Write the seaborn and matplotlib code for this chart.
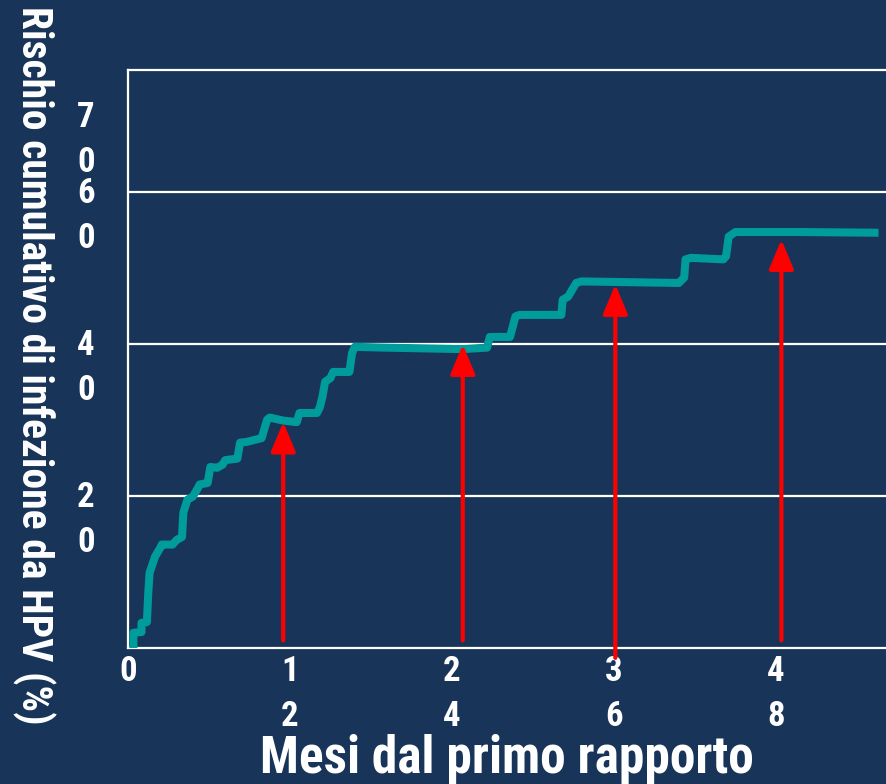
import matplotlib
matplotlib.use("Agg")
import matplotlib.pyplot as plt
from matplotlib import font_manager
from matplotlib.patches import ArrowStyle
from matplotlib.transforms import ScaledTranslation
import seaborn as sns
import pandas as pd

# Cumulative risk curve (months since first partner, cumulative risk %)
months = [0.4, 0.4, 1.0, 1.0, 1.4, 1.5, 1.6, 2.0, 2.4, 2.5, 3.3, 3.6, 4.0, 4.1, 4.4,
          4.8, 5.2, 5.3, 5.9, 6.1, 6.6, 7.0, 7.2, 8.1, 8.3, 8.8, 9.9, 10.3, 10.5, 11.5,
          12.5, 12.7, 14.0, 14.2, 14.4, 14.6, 15.0, 15.2, 16.4, 16.6, 16.8, 18.9, 24.8,
          26.6, 26.8, 28.3, 28.7, 29.0, 32.1, 32.2, 32.6, 33.2, 33.6, 40.8, 41.2, 41.3,
          41.7, 44.1, 44.3, 44.5, 45.0, 49.6, 55.6]
risk = [0.0, 2.0, 2.1, 3.3, 3.4, 7.2, 9.9, 12.0, 13.2, 13.6, 13.6, 14.2, 14.6, 17.8, 19.5,
        19.9, 21.1, 21.5, 21.7, 23.8, 23.7, 24.1, 24.7, 24.9, 27.0, 27.1, 27.6, 30.0, 30.3, 29.9,
        29.7, 30.9, 30.9, 31.6, 33.0, 35.0, 35.5, 36.3, 36.3, 38.8, 39.6, 39.5, 39.3,
        39.5, 40.9, 40.9, 43.6, 43.8, 43.8, 45.8, 46.2, 48.0, 48.2, 48.0, 48.7, 51.1,
        51.3, 51.1, 51.5, 54.1, 54.7, 54.7, 54.6]

# Highlight arrows: month, arrow base, arrow tip (risk %)
arrow_months = [11.5, 24.8, 36.1, 48.4]
arrow_base = [1.0, 1.0, -1.3, 1.0]
arrow_tip = [29.7, 39.9, 47.8, 53.7]

x_ticks = [0, 12, 24, 36, 48]
x_tick_labels = ["0", "1\n2", "2\n4", "3\n6", "4\n8"]
y_ticks = [20, 40, 60, 70]
y_tick_labels = ["2\n0", "4\n0", "6\n0", "7\n0"]
grid_levels = [20, 40, 60]

x_title = "Mesi dal primo rapporto"
y_title = "Rischio cumulativo di infezione da HPV (%)"

BG = "#183559"
CURVE = "#009b9b"

sns.set_style("white", {"axes.facecolor": BG, "figure.facecolor": BG,
                        "axes.edgecolor": "white"})

available = {f.name for f in font_manager.fontManager.ttflist}
family = [f for f in ["Liberation Sans Narrow", "Roboto Condensed", "Liberation Sans", "DejaVu Sans"]
          if f in available]
plt.rcParams["font.family"] = family

fig = plt.figure(figsize=(8.86, 7.84), dpi=100)
fig.patch.set_facecolor(BG)
ax = fig.add_axes([128 / 886, 136 / 784, 758 / 886, 578 / 784])
ax.set_facecolor(BG)

for lvl in grid_levels:
    ax.axhline(lvl, color="white", lw=1.6, zorder=1)

df = pd.DataFrame({"month": months, "risk": risk})
sns.lineplot(data=df, x="month", y="risk", sort=False, estimator=None,
             color=CURVE, lw=5.8, ax=ax, zorder=3,
             solid_joinstyle="round", solid_capstyle="butt")

style = ArrowStyle("-|>", head_length=1.0, head_width=0.42)
for m, b, t in zip(arrow_months, arrow_base, arrow_tip):
    ax.annotate("", xy=(m, t), xytext=(m, b),
                arrowprops=dict(arrowstyle=style, color="#ff0000", lw=3.0,
                                mutation_scale=18, shrinkA=0, shrinkB=0),
                annotation_clip=False, zorder=4)

ax.set_xlim(0, 56.15)
ax.set_ylim(0, 76)

for side in ["left", "bottom", "top"]:
    ax.spines[side].set_color("white")
    ax.spines[side].set_linewidth(1.6)
ax.spines["right"].set_visible(False)

ax.set_xticks(x_ticks)
ax.set_xticklabels(x_tick_labels, fontsize=25, fontweight="bold", color="white",
                   linespacing=1.45)
ax.set_yticks(y_ticks)
ax.set_yticklabels(y_tick_labels, fontsize=25, fontweight="bold", color="white",
                   linespacing=1.45)
ax.tick_params(axis="x", length=0, pad=5)
ax.tick_params(axis="y", length=0, pad=24)
shift = ScaledTranslation(0, -0.15, fig.dpi_scale_trans)
for lab in ax.get_yticklabels():
    lab.set_transform(lab.get_transform() + shift)
ax.set_xlabel("")
ax.set_ylabel("")

fig.text(507 / 886, 11 / 784, x_title, ha="center", va="baseline",
         fontsize=37, fontweight="bold", color="white")
fig.text(34 / 886, 419 / 784, y_title, ha="center", va="center", rotation=270,
         fontsize=30, fontweight="bold", color="white")

fig.savefig("out.png", dpi=100, facecolor=BG)
